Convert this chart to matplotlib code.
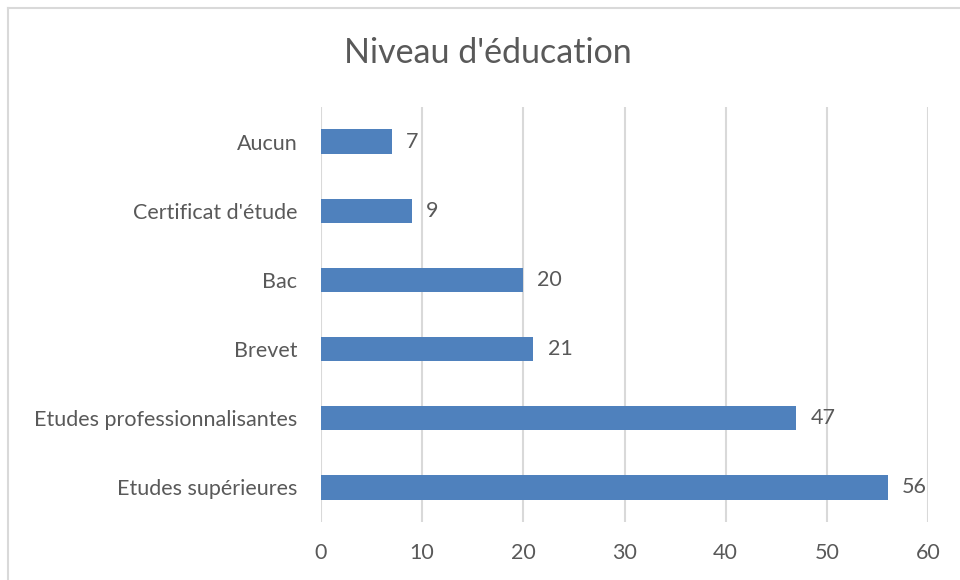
import matplotlib
matplotlib.use("Agg")
import matplotlib.pyplot as plt
from matplotlib.lines import Line2D

categories = ["Etudes supérieures", "Etudes professionnalisantes", "Brevet", "Bac",
              "Certificat d'étude", "Aucun"]
values = [56, 47, 21, 20, 9, 7]
xticks = [0, 10, 20, 30, 40, 50, 60]
title = "Niveau d'éducation"

plt.rcParams['font.family'] = ['Lato', 'DejaVu Sans']
txt = "#595959"
bar_color = "#4F81BD"

W, H = 960, 580
fig = plt.figure(figsize=(9.6, 5.8), dpi=100)
ax = fig.add_axes([321 / W, 1 - 522 / H, (928 - 321) / W, (522 - 107) / H])

y = list(range(len(categories)))
ax.barh(y, values, height=0.35, color=bar_color, zorder=3)
for yi, v in zip(y, values):
    ax.text(v + 1.4, yi, str(v), va="center", ha="left", fontsize=15.5, color=txt)

ax.set_xlim(0, 60)
ax.set_ylim(-0.5, len(categories) - 0.5)
ax.set_xticks(xticks)
ax.set_xticklabels([str(t) for t in xticks])
ax.set_yticks(y)
ax.set_yticklabels(categories)
ax.tick_params(axis="both", length=0, labelsize=15.5, colors=txt)
ax.tick_params(axis="x", pad=15)
ax.tick_params(axis="y", pad=17)
ax.xaxis.grid(True, color="#d9d9d9", linewidth=1.5, zorder=0)
for s in ax.spines.values():
    s.set_visible(False)

fig.text(488 / W, 1 - 53 / H, title, ha="center", va="center", fontsize=24.5, color=txt)

fig.add_artist(Line2D([8 / W, 8 / W], [0, 1 - 8 / H], transform=fig.transFigure,
                      color="#d9d9d9", linewidth=1.5))
fig.add_artist(Line2D([8 / W, 1], [1 - 8 / H, 1 - 8 / H], transform=fig.transFigure,
                      color="#d9d9d9", linewidth=1.5))

fig.savefig("out.png", dpi=100, facecolor="white")
